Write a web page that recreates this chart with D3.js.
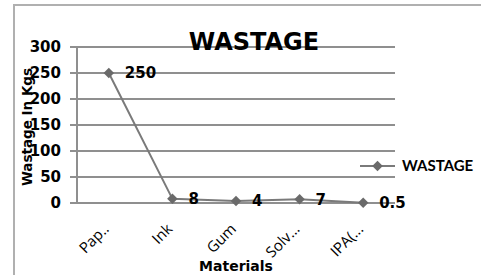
<!DOCTYPE html>
<html><head><meta charset="utf-8">
<script src="https://cdn.jsdelivr.net/npm/d3@7"></script>
<style>body{margin:0;background:#fff}svg{display:block}</style>
</head><body>
<script>
const categories = ["Pap..", "Ink", "Gum", "Solv...", "IPA(..."];
const values = [250, 8, 4, 7, 0.5];
const valueLabels = ["250", "8", "4", "7", "0.5"];
const yTicks = [0, 50, 100, 150, 200, 250, 300];
const seriesName = "WASTAGE";
const title = "WASTAGE";
const xTitle = "Materials";
const yTitle = "Wastage In Kgs";

(function () {
const W = 481, H = 275;
const DJ = "'DejaVu Sans', sans-serif";
const svg = d3.select("body").append("svg").attr("width", W).attr("height", H)
  .attr("font-family", DJ);

svg.append("rect").attr("x", 14).attr("y", 5).attr("width", W).attr("height", H)
  .attr("fill", "#fff").attr("stroke", "#b0b0b0").attr("stroke-width", 2);

const pl = 77, pr = 395, pt = 47, pb = 203;
const x = d3.scaleBand().domain(categories).range([pl, pr]);
const y = d3.scaleLinear().domain([0, 300]).range([pb, pt]);

svg.append("g").selectAll("line").data(yTicks).join("line")
  .attr("x1", 70).attr("x2", pr).attr("y1", d => y(d)).attr("y2", d => y(d))
  .attr("stroke", "#8f8f8f").attr("stroke-width", 2);
svg.append("line").attr("x1", pl).attr("x2", pl).attr("y1", pt).attr("y2", pb)
  .attr("stroke", "#8f8f8f").attr("stroke-width", 2);

svg.append("g").selectAll("text").data(yTicks).join("text")
  .attr("x", 61).attr("y", d => y(d)).attr("dy", "0.36em").attr("text-anchor", "end")
  .attr("font-size", 15).attr("font-weight", 700).attr("fill", "#000").text(d => d);

svg.append("g").selectAll("text").data(categories).join("text")
  .attr("transform", d => `translate(${x(d) + x.bandwidth() / 2 + 1},${230}) rotate(-45)`)
  .attr("text-anchor", "end").attr("font-family", "'Open Sans', sans-serif")
  .attr("font-size", 15).attr("fill", "#000").text(d => d);

svg.append("text").attr("x", 254).attr("y", 50).attr("text-anchor", "middle")
  .attr("font-size", 24).attr("font-weight", 700).attr("fill", "#000").text(title);

svg.append("text").attr("x", 236).attr("y", 271).attr("text-anchor", "middle")
  .attr("font-size", 14).attr("font-weight", 700).attr("fill", "#000").text(xTitle);
svg.append("text").attr("transform", "translate(32,127) rotate(-90)").attr("text-anchor", "middle")
  .attr("font-size", 13.5).attr("font-weight", 700).attr("fill", "#000").text(yTitle);

const cx = d => x(d) + x.bandwidth() / 2;
const line = d3.line().x((d, i) => cx(categories[i])).y(d => y(d));
svg.append("path").datum(values).attr("d", line).attr("fill", "none")
  .attr("stroke", "#7a7a7a").attr("stroke-width", 2);
const diamond = d3.symbol().type(d3.symbolDiamond2).size(70);
svg.append("g").selectAll("path").data(values).join("path")
  .attr("transform", (d, i) => `translate(${cx(categories[i])},${y(d)})`)
  .attr("d", diamond).attr("fill", "#6a6a6a");

svg.append("g").selectAll("text").data(values).join("text")
  .attr("x", (d, i) => cx(categories[i]) + 16).attr("y", d => y(d)).attr("dy", "0.36em")
  .attr("font-size", 15).attr("font-weight", 700).attr("fill", "#000").text((d, i) => valueLabels[i]);

const lg = svg.append("g").attr("transform", "translate(360,166)");
lg.append("line").attr("x1", 0).attr("x2", 35).attr("stroke", "#7a7a7a").attr("stroke-width", 2);
lg.append("path").attr("transform", "translate(17.5,0)").attr("d", diamond).attr("fill", "#6a6a6a");
lg.append("text").attr("x", 42).attr("dy", "0.36em").attr("font-family", "Lato, sans-serif")
  .attr("font-size", 15).attr("font-weight", 700).attr("fill", "#000").text(seriesName);
})();
</script>
</body></html>
